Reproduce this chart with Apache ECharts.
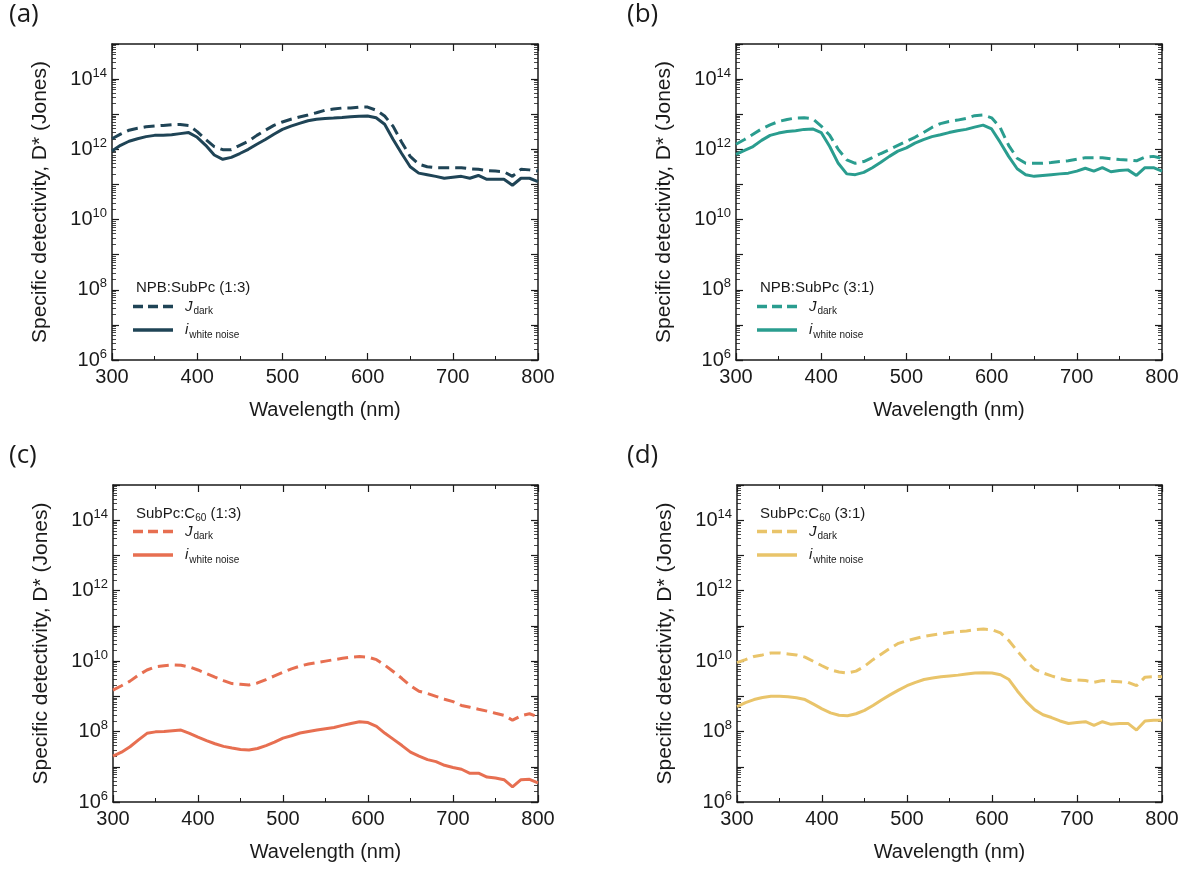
<!DOCTYPE html>
<html>
<head>
<meta charset="utf-8">
<title>Specific detectivity</title>
<script src="https://cdn.jsdelivr.net/npm/echarts@6/dist/echarts.min.js"></script>
<style>
  html, body { margin: 0; padding: 0; background: #fff; }
  #chart { width: 1185px; height: 873px; }
</style>
</head>
<body>
<div id="chart"></div>
<script>
// wavelength grid (nm), shared by all four panels
var wavelengths = [300, 310, 320, 330, 340, 350, 360, 370, 380, 390, 400, 410, 420, 430, 440, 450, 460, 470, 480, 490,
  500, 510, 520, 530, 540, 550, 560, 570, 580, 590, 600, 610, 620, 630, 640, 650, 660, 670, 680, 690,
  700, 710, 720, 730, 740, 750, 760, 770, 780, 790, 800];

var xTicks = [300, 400, 500, 600, 700, 800];
var yDecades = [6, 8, 10, 12, 14];

// (a) NPB:SubPc (1:3)
var aDark = [2.0e12, 2.7e12, 3.5e12, 4.0e12, 4.4e12, 4.6e12, 4.8e12, 5.0e12, 5.1e12, 4.8e12, 3.2e12, 1.9e12, 1.2e12, 9.8e11, 9.8e11, 1.3e12, 1.7e12, 2.5e12, 3.5e12, 4.8e12,
  6.0e12, 7.2e12, 8.3e12, 9.5e12, 1.1e13, 1.3e13, 1.4e13, 1.5e13, 1.5e13, 1.6e13, 1.6e13, 1.3e13, 8.9e12, 4.5e12, 1.6e12, 6.3e11, 3.8e11, 3.2e11, 3.0e11, 3.0e11,
  3.0e11, 3.0e11, 2.8e11, 2.7e11, 2.5e11, 2.4e11, 2.3e11, 1.7e11, 2.7e11, 2.6e11, 2.4e11];
var aWhite = [8.9e11, 1.3e12, 1.7e12, 2.0e12, 2.3e12, 2.5e12, 2.5e12, 2.6e12, 2.8e12, 3.0e12, 2.2e12, 1.3e12, 6.9e11, 5.2e11, 5.9e11, 7.6e11, 1.0e12, 1.4e12, 1.9e12, 2.7e12,
  3.7e12, 4.6e12, 5.5e12, 6.5e12, 7.2e12, 7.6e12, 7.8e12, 8.1e12, 8.5e12, 8.7e12, 8.9e12, 7.9e12, 5.2e12, 1.9e12, 7.6e11, 3.2e11, 2.1e11, 1.9e11, 1.7e11, 1.5e11,
  1.6e11, 1.7e11, 1.5e11, 1.8e11, 1.4e11, 1.4e11, 1.4e11, 9.5e10, 1.5e11, 1.5e11, 1.2e11];

// (b) NPB:SubPc (3:1)
var bDark = [1.4e12, 1.9e12, 2.7e12, 3.8e12, 5.0e12, 6.2e12, 7.1e12, 7.8e12, 7.9e12, 7.4e12, 4.6e12, 2.5e12, 1.0e12, 5.0e11, 4.0e11, 4.5e11, 5.8e11, 7.6e11, 9.8e11, 1.3e12,
  1.7e12, 2.2e12, 3.0e12, 4.2e12, 5.4e12, 6.2e12, 6.8e12, 7.6e12, 9.1e12, 9.5e12, 7.9e12, 4.2e12, 1.3e12, 5.6e11, 4.0e11, 4.0e11, 4.0e11, 4.2e11, 4.5e11, 4.7e11,
  5.2e11, 5.8e11, 5.8e11, 5.8e11, 5.4e11, 5.1e11, 5.0e11, 4.7e11, 6.0e11, 6.3e11, 5.5e11];
var bWhite = [7.2e11, 9.3e11, 1.2e12, 1.8e12, 2.5e12, 2.9e12, 3.2e12, 3.4e12, 3.7e12, 3.8e12, 3.0e12, 1.2e12, 4.0e11, 2.0e11, 1.9e11, 2.2e11, 3.0e11, 4.3e11, 6.3e11, 8.9e11,
  1.1e12, 1.5e12, 1.9e12, 2.3e12, 2.6e12, 3.0e12, 3.4e12, 3.7e12, 4.3e12, 4.9e12, 3.8e12, 1.6e12, 6.3e11, 2.8e11, 1.9e11, 1.7e11, 1.8e11, 1.9e11, 2.0e11, 2.1e11,
  2.4e11, 2.9e11, 2.4e11, 3.0e11, 2.3e11, 2.5e11, 2.6e11, 1.8e11, 3.0e11, 3.0e11, 2.4e11];

// (c) SubPc:C60 (1:3)
var cDark = [1.5e9, 2.0e9, 2.7e9, 4.0e9, 5.6e9, 6.9e9, 7.4e9, 7.8e9, 7.6e9, 6.8e9, 5.6e9, 4.4e9, 3.5e9, 2.8e9, 2.3e9, 2.2e9, 2.1e9, 2.4e9, 3.0e9, 3.8e9,
  4.8e9, 6.0e9, 7.2e9, 8.3e9, 9.1e9, 1.0e10, 1.1e10, 1.2e10, 1.3e10, 1.35e10, 1.3e10, 1.1e10, 7.6e9, 5.0e9, 3.2e9, 2.0e9, 1.4e9, 1.2e9, 1.0e9, 8.3e8,
  7.1e8, 5.5e8, 4.9e8, 4.3e8, 3.8e8, 3.3e8, 2.9e8, 2.1e8, 2.8e8, 3.2e8, 2.6e8];
var cWhite = [2.0e7, 2.6e7, 3.7e7, 5.8e7, 8.9e7, 9.8e7, 1.0e8, 1.05e8, 1.1e8, 8.9e7, 6.9e7, 5.5e7, 4.5e7, 3.8e7, 3.4e7, 3.1e7, 3.0e7, 3.3e7, 4.0e7, 5.0e7,
  6.5e7, 7.6e7, 9.1e7, 1.0e8, 1.1e8, 1.2e8, 1.3e8, 1.5e8, 1.7e8, 1.9e8, 1.8e8, 1.4e8, 8.9e7, 6.0e7, 4.0e7, 2.6e7, 2.0e7, 1.6e7, 1.4e7, 1.1e7,
  9.5e6, 8.5e6, 6.5e6, 6.6e6, 5.1e6, 4.8e6, 4.3e6, 2.7e6, 4.3e6, 4.4e6, 3.5e6];

// (d) SubPc:C60 (3:1)
var dDark = [9.1e9, 1.1e10, 1.35e10, 1.5e10, 1.7e10, 1.7e10, 1.6e10, 1.5e10, 1.3e10, 9.8e9, 7.4e9, 5.6e9, 4.9e9, 4.6e9, 5.2e9, 7.1e9, 1.1e10, 1.6e10, 2.3e10, 3.2e10,
  3.8e10, 4.4e10, 5.0e10, 5.5e10, 6.0e10, 6.5e10, 6.9e10, 7.2e10, 7.8e10, 8.1e10, 7.8e10, 6.3e10, 3.8e10, 1.9e10, 1.0e10, 5.9e9, 4.6e9, 3.8e9, 3.2e9, 2.8e9,
  2.9e9, 2.8e9, 2.5e9, 2.8e9, 2.7e9, 2.6e9, 2.5e9, 2.0e9, 3.5e9, 3.6e9, 3.6e9];
var dWhite = [5.1e8, 6.6e8, 8.1e8, 9.3e8, 1.0e9, 1.0e9, 9.8e8, 9.1e8, 8.1e8, 6.0e8, 4.4e8, 3.4e8, 2.9e8, 2.8e8, 3.2e8, 4.0e8, 5.5e8, 7.9e8, 1.1e9, 1.5e9,
  2.0e9, 2.5e9, 3.0e9, 3.3e9, 3.6e9, 3.8e9, 4.0e9, 4.3e9, 4.6e9, 4.7e9, 4.6e9, 4.1e9, 3.0e9, 1.4e9, 7.2e8, 4.2e8, 3.0e8, 2.5e8, 2.0e8, 1.7e8,
  1.8e8, 1.9e8, 1.5e8, 1.9e8, 1.6e8, 1.7e8, 1.7e8, 1.1e8, 2.0e8, 2.1e8, 2.1e8];

var panels = [
  { tag: '(a)', title: 'NPB:SubPc (1:3)', dark: aDark, white: aWhite, color: '#1f4456',
    grid: { left: 112, top: 44, width: 426, height: 316 }, labelPos: [9, 2], legendPos: [128, 280] },
  { tag: '(b)', title: 'NPB:SubPc (3:1)', dark: bDark, white: bWhite, color: '#2a9d8f',
    grid: { left: 736, top: 44, width: 426, height: 316 }, labelPos: [627, 2], legendPos: [752, 280] },
  { tag: '(c)', title: 'SubPc:C{s|60} (1:3)', dark: cDark, white: cWhite, color: '#e76f51',
    grid: { left: 113, top: 485, width: 425, height: 317 }, labelPos: [9, 443], legendPos: [128, 505] },
  { tag: '(d)', title: 'SubPc:C{s|60} (3:1)', dark: dDark, white: dWhite, color: '#e9c46a',
    grid: { left: 737, top: 485, width: 425, height: 317 }, labelPos: [627, 443], legendPos: [752, 505] }
];

var ink = '#1a1a1a';
var font = '"Liberation Sans", Arial, sans-serif';
// legend keys: three dashes, or one solid bar
var dashIcon = 'path://M0,0h10v3.5h-10z M15,0h10v3.5h-10z M30,0h10v3.5h-10z';
var solidIcon = 'path://M0,0h40v3.5h-40z';

function pairs(ys) {
  return wavelengths.map(function(x, i) { return [x, ys[i]]; });
}

var grids = [], xAxes = [], yAxes = [], series = [], titles = [], legends = [];

panels.forEach(function(p, i) {
  grids.push(p.grid);

  var axisLine = { show: true, onZero: false, lineStyle: { color: ink, width: 1.5 } };
  var tick = { show: true, inside: true, length: 7, lineStyle: { color: ink, width: 1.2 } };
  var minor = { show: true, length: 4, splitNumber: 2, lineStyle: { color: ink, width: 1 } };

  // bottom + top wavelength axes
  xAxes.push({
    type: 'value', gridIndex: i, min: 300, max: 800, interval: 100,
    name: 'Wavelength (nm)', nameLocation: 'middle', nameGap: 40,
    nameTextStyle: { fontFamily: font, fontSize: 20, color: ink },
    axisLine: axisLine, axisTick: tick, minorTick: minor,
    axisLabel: { fontFamily: font, fontSize: 20, color: ink, margin: 7 },
    splitLine: { show: false }
  });
  xAxes.push({
    type: 'value', gridIndex: i, position: 'top', min: 300, max: 800, interval: 100,
    axisLine: axisLine, axisTick: tick, minorTick: minor,
    axisLabel: { show: false }, splitLine: { show: false }
  });

  var yMinor = { show: true, length: 4, splitNumber: 9, lineStyle: { color: ink, width: 0.8 } };
  yAxes.push({
    type: 'log', logBase: 10, gridIndex: i, min: 1e6, max: 1e15, splitNumber: 9,
    name: 'Specific detectivity, D* (Jones)', nameLocation: 'middle', nameGap: 61,
    nameTextStyle: { fontFamily: font, fontSize: 21, color: ink },
    axisLine: axisLine, axisTick: tick, minorTick: yMinor,
    axisLabel: {
      margin: 5, fontFamily: font, fontSize: 20, color: ink,
      formatter: function(v) {
        var e = Math.round(Math.log10(v));
        return yDecades.indexOf(e) >= 0 ? '10{sup|' + e + '}' : '';
      },
      rich: { sup: { fontFamily: font, fontSize: 13, color: ink, padding: [0, 0, 12, 0] } }
    },
    splitLine: { show: false }
  });
  yAxes.push({
    type: 'log', logBase: 10, gridIndex: i, position: 'right', min: 1e6, max: 1e15, splitNumber: 9,
    axisLine: axisLine, axisTick: tick, minorTick: yMinor,
    axisLabel: { show: false }, splitLine: { show: false }
  });

  var darkName = 'J dark ' + p.tag, whiteName = 'i white ' + p.tag;
  series.push({
    name: darkName, type: 'line', xAxisIndex: 2 * i, yAxisIndex: 2 * i,
    data: pairs(p.dark), symbol: 'none',
    lineStyle: { color: p.color, width: 3, type: [11, 6] },
    itemStyle: { color: p.color }
  });
  series.push({
    name: whiteName, type: 'line', xAxisIndex: 2 * i, yAxisIndex: 2 * i,
    data: pairs(p.white), symbol: 'none',
    lineStyle: { color: p.color, width: 3 },
    itemStyle: { color: p.color }
  });

  titles.push({
    text: p.tag, left: p.labelPos[0], top: p.labelPos[1], padding: 0,
    textStyle: { fontFamily: '"Open Sans", "Noto Sans", sans-serif', fontSize: 26, fontWeight: 'normal', color: ink }
  });
  titles.push({
    text: p.title, left: p.legendPos[0] + 8, top: p.legendPos[1], padding: 0,
    textStyle: {
      fontFamily: font, fontSize: 15, fontWeight: 'normal', color: ink,
      rich: { s: { fontFamily: font, fontSize: 10, color: ink, padding: [8, 0, 0, 0] } }
    }
  });

  legends.push({
    data: [
      { name: darkName, icon: dashIcon },
      { name: whiteName, icon: solidIcon }
    ],
    orient: 'vertical',
    left: p.legendPos[0], top: p.legendPos[1] + 14,
    itemWidth: 40, itemHeight: 4, itemGap: 6,
    selectedMode: false,
    formatter: function(name) {
      return name.charAt(0) === 'J' ? '{i|J}{s|dark}' : '{i|i}{s|white noise}';
    },
    textStyle: {
      color: ink,
      rich: {
        i: { fontFamily: font, fontSize: 15, fontStyle: 'italic', color: ink, padding: [0, 1, 0, 7] },
        s: { fontFamily: font, fontSize: 10, color: ink, padding: [10, 0, 0, 0] }
      }
    }
  });
});

var chart = echarts.init(document.getElementById('chart'), null, { renderer: 'canvas' });
chart.setOption({
  animation: false,
  backgroundColor: '#ffffff',
  title: titles,
  legend: legends,
  grid: grids,
  xAxis: xAxes,
  yAxis: yAxes,
  series: series
});
window.addEventListener('resize', function() { chart.resize(); });
</script>
</body>
</html>
